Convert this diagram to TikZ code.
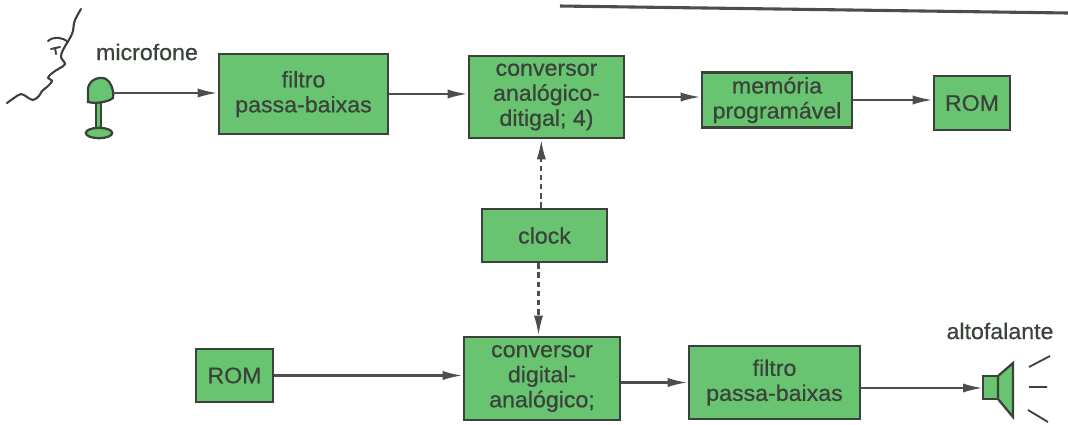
\documentclass[tikz,border=0pt]{standalone}
\usepackage{fontspec}
\setmainfont[FakeStretch=1.03, FakeBold=0.6]{Liberation Sans}
\usetikzlibrary{arrows.meta}

\definecolor{boxgreen}{RGB}{104,196,112}
\definecolor{inkgray}{RGB}{58,66,58}
\definecolor{linegray}{RGB}{76,78,74}

\begin{document}
\begin{tikzpicture}[x=0.025cm, y=-0.025cm,
    blk/.style={draw=inkgray, line width=1.8pt, fill=boxgreen, text=inkgray, align=center,
        inner sep=0pt, font=\fontsize{16}{17.8}\selectfont},
    sig/.style={draw=linegray, line width=1.7pt, -{Latex[length=5mm,width=2.3mm]}},
    clk/.style={sig, dash pattern=on 4pt off 2.5pt},
    lbl/.style={text=inkgray, font=\fontsize{16}{17.8}\selectfont},
    part/.style={fill=boxgreen, draw=inkgray, line width=1.6pt}]
    \useasboundingbox (0,0) rectangle (1068,424);
    \draw[linegray, line width=2.2pt] (560,6) -- (1068,13);

    % recording chain
    \node[blk, minimum width=4.225cm, minimum height=2cm] (filtroA) at (303.5,94) {filtro\\passa-baixas};
    \node[blk, minimum width=3.875cm, minimum height=2.05cm] (adc) at (546.5,97) {conversor\\anal\'ogico-\\ditigal; 4)};
    \node[blk, minimum width=3.75cm, minimum height=1.375cm] (mem) at (777,100) {mem\'oria\\program\'avel};
    \node[blk, minimum width=1.9cm, minimum height=1.35cm] (romA) at (972,103) {ROM};
    \node[blk, minimum width=3.125cm, minimum height=1.325cm] (clock) at (544.5,235.5) {clock};

    % playback chain
    \node[blk, minimum width=1.925cm, minimum height=1.325cm] (romB) at (234.5,375.5) {ROM};
    \node[blk, minimum width=3.9cm, minimum height=2.075cm] (dac) at (542,378.5) {conversor\\digital-\\anal\'ogico;};
    \node[blk, minimum width=4.275cm, minimum height=1.825cm] (filtroB) at (774.5,382.5) {filtro\\passa-baixas};

    % face
    \draw[inkgray, line width=1.5pt, line cap=round, line join=round] plot[smooth, tension=0.6] coordinates
        {(81,9) (77,16) (74,23) (73,31) (70,38) (67,43) (63,50) (61,57) (65,64) (60,68) (55,71)
         (51,74) (48,78) (52,81) (47,87) (42,91) (39,96) (33,100) (27,97) (21,94) (14,98) (7,103)};
    \draw[inkgray, line width=1.4pt, line cap=round] (48,41) .. controls (54,36) and (62,37) .. (68,42);
    \draw[inkgray, line width=1.4pt, line cap=round] (51,49) -- (60,47) (55,48) -- (56,54);

    % microphone
    \draw[part] (96,100) rectangle (101,130);
    \draw[part] (99,133) ellipse [x radius=0.33cm, y radius=0.13cm];
    \draw[part] (88,102) -- (88,88) .. controls (90,79) and (100,76) .. (106,79)
        .. controls (111,82) and (114,90) .. (113,98) .. controls (108,102) and (96,104) .. (88,102) -- cycle;
    \coordinate (micout) at (113,93);
    \node[lbl] (miclbl) at (147,52) {microfone};

    % speaker
    \draw[part] (983,376) rectangle (998,399);
    \draw[part] (998,376) -- (1013,363) -- (1013,417) -- (998,399) -- cycle;
    \coordinate (spkin) at (983,388);
    \draw[inkgray, line width=1.3pt] (1029,367) -- (1050,356) (1029,387) -- (1047,387) (1028,410) -- (1048,422);
    \node[lbl] (spklbl) at (1000,331) {altofalante};

    % signal paths
    \draw[sig] (micout) -- (filtroA.west |- micout);
    \draw[sig] (filtroA.east) -- (adc.west |- filtroA.east);
    \draw[sig] (adc.east) -- (mem.west |- adc.east);
    \draw[sig] (mem.east) -- (romA.west |- mem.east);
    \draw[clk] ([xshift=-0.08cm]clock.north) -- ([xshift=-0.08cm]clock.north |- adc.south);
    \draw[clk] ([xshift=-0.15cm]clock.south) -- ([xshift=-0.15cm]clock.south |- dac.north);
    \draw[sig] (romB.east) -- (dac.west |- romB.east);
    \draw[sig] (dac.east |- filtroB.west) -- (filtroB.west);
    \draw[sig] (filtroB.east |- spkin) -- (spkin);
\end{tikzpicture}
\end{document}
